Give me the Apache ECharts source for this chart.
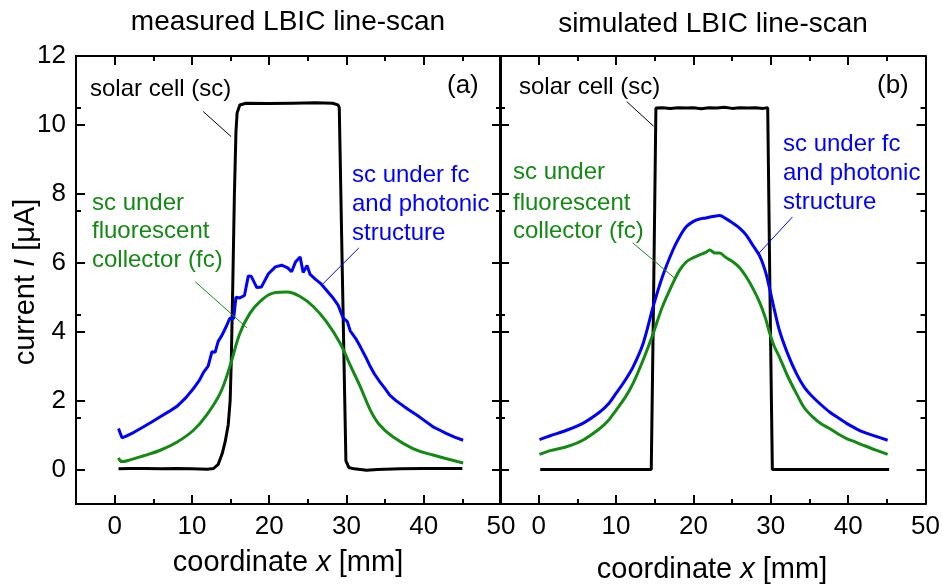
<!DOCTYPE html>
<html>
<head>
<meta charset="utf-8">
<script src="https://cdn.jsdelivr.net/npm/echarts@6/dist/echarts.min.js"></script>
<style>
  html, body { margin: 0; padding: 0; background: #fff; }
  #chart { width: 943px; height: 588px; }
</style>
</head>
<body>
<div id="chart"></div>
<script>
// ---- data -------------------------------------------------------------
// axis ticks
const xMajorTicks = [0, 10, 20, 30, 40, 50];
const yMajorTicks = [0, 2, 4, 6, 8, 10, 12];

// (a) measured line-scan: [x in mm, current in µA]
const scMeasured = [
  [0.5, 0.02], [2, 0.03], [4, 0.03], [6, 0.02], [8, 0.03], [10, 0.02], [12, 0.01],
  [12.8, 0.03], [13.4, 0.15], [13.9, 0.45], [14.3, 0.8], [14.7, 1.3], [14.95, 2.0],
  [15.1, 3.2], [15.3, 5.5], [15.5, 8.0], [15.7, 9.8], [15.85, 10.35], [16.2, 10.58],
  [17, 10.63], [20, 10.62], [23, 10.63], [26, 10.64], [28.2, 10.63], [28.9, 10.58],
  [29.07, 10.5], [29.5, 5.3], [29.93, 0.25], [30.3, 0.06], [31, 0.02], [32.6, -0.02],
  [34, 0.0], [37, 0.02], [40, 0.03], [45, 0.03]
];
const fcMeasured = [
  [0.5, 0.34], [0.95, 0.23], [2, 0.28], [3.75, 0.40], [5.9, 0.56], [8.1, 0.80],
  [10.2, 1.14], [11.9, 1.58], [13.65, 2.21], [14.9, 2.98], [16.2, 3.95], [17.5, 4.53],
  [18.8, 4.87], [20.5, 5.12], [22.3, 5.15], [24.0, 5.02], [25.7, 4.73], [27.4, 4.29],
  [29.2, 3.66], [30.5, 3.02], [31.8, 2.40], [33.1, 1.72], [34.3, 1.29], [36.0, 0.95],
  [38.6, 0.61], [41.2, 0.42], [45.1, 0.19]
];
const fcPhotonicMeasured = [
  [0.5, 1.19], [0.95, 0.92], [1.5, 0.97], [2.5, 1.08], [3.75, 1.24], [4.8, 1.38],
  [5.9, 1.53], [7, 1.68], [8.1, 1.84], [9.2, 2.08], [10.2, 2.35], [11, 2.6],
  [11.5, 2.82], [12.1, 3.0], [12.6, 3.42], [13.0, 3.4], [13.4, 3.72], [13.9, 3.9],
  [14.5, 4.18], [14.9, 4.39], [15.4, 4.38], [15.7, 5.0], [16.2, 4.98], [16.8, 5.05],
  [17.3, 5.62], [17.7, 5.6], [18.4, 5.28], [19.0, 5.3], [19.9, 5.68], [20.8, 5.88],
  [21.6, 5.93], [22.4, 5.85], [22.9, 5.74], [23.4, 6.02], [24.0, 6.17], [24.4, 5.72],
  [24.9, 5.92], [25.3, 5.66], [26.0, 5.52], [26.6, 5.41], [27.2, 5.26], [27.8, 5.1],
  [28.3, 4.97], [28.9, 4.78], [29.3, 4.55], [29.6, 4.39], [30.1, 4.3], [30.5, 4.02],
  [31.2, 3.8], [31.8, 3.56], [32.5, 3.26], [33.1, 2.98], [33.6, 2.78], [34.3, 2.55],
  [35, 2.35], [35.6, 2.16], [36.3, 2.02], [36.9, 1.92], [38, 1.74], [39.1, 1.58],
  [40.1, 1.42], [41.2, 1.24], [42.1, 1.14], [42.9, 1.05], [44, 0.94], [45.1, 0.85]
];

// (b) simulated line-scan
const scSimulated = [
  [0.2, 0], [5, 0], [10, 0], [14.55, 0], [14.85, 5], [15.15, 10.49], [16, 10.5],
  [17, 10.48], [18, 10.5], [19, 10.49], [20, 10.5], [21, 10.47], [22, 10.5],
  [23, 10.49], [24, 10.51], [25, 10.48], [26, 10.5], [27, 10.49], [28, 10.5],
  [29, 10.48], [29.6, 10.5], [29.9, 5], [30.2, 0], [35, 0], [40, 0], [45.3, 0]
];
const fcSimulated = [
  [0.1, 0.44], [1.5, 0.55], [3.6, 0.66], [5.7, 0.85], [7.9, 1.19], [9, 1.42],
  [10.0, 1.72], [11.2, 2.1], [12.2, 2.50], [13.5, 3.18], [14.8, 3.95], [16.0, 4.73],
  [17.35, 5.41], [18.2, 5.78], [19.1, 6.03], [20.0, 6.15], [20.8, 6.23], [21.6, 6.3],
  [22.1, 6.37], [22.8, 6.28], [23.4, 6.28], [24.2, 6.15], [25.1, 6.03], [26.0, 5.85],
  [26.8, 5.6], [27.7, 5.25], [28.6, 4.83], [29.3, 4.4], [29.8, 4.0], [30.4, 3.6],
  [31.1, 3.27], [32.2, 2.7], [33.3, 2.21], [34.3, 1.8], [35.4, 1.53], [36.5, 1.33],
  [37.6, 1.19], [38.7, 1.03], [39.8, 0.9], [40.9, 0.8], [41.9, 0.71], [43.5, 0.57],
  [45.1, 0.44]
];
const fcPhotonicSimulated = [
  [0.1, 0.87], [1.5, 0.98], [3.6, 1.14], [5.7, 1.34], [7.9, 1.67], [9, 1.9],
  [10.0, 2.21], [11.2, 2.6], [12.2, 2.98], [13.5, 3.66], [14.8, 4.73], [16.0, 5.6],
  [17.35, 6.37], [18.2, 6.75], [19.1, 7.05], [20.0, 7.2], [20.8, 7.27], [21.6, 7.3],
  [22.5, 7.34], [23.4, 7.37], [24.2, 7.28], [25.1, 7.15], [26.0, 7.0], [26.8, 6.81],
  [27.7, 6.5], [28.6, 6.18], [29.3, 5.75], [29.8, 5.3], [30.4, 4.7], [31.1, 4.05],
  [32.2, 3.35], [33.3, 2.79], [34.3, 2.4], [35.4, 2.11], [36.5, 1.88], [37.6, 1.67],
  [38.7, 1.5], [39.8, 1.34], [40.9, 1.2], [41.9, 1.09], [43.5, 0.97], [45.1, 0.85]
];

// ---- styling ----------------------------------------------------------
const FONT = '"Liberation Sans", Arial, sans-serif';
const BLACK = '#000';
const BLUE = '#0000ff';
const GREEN = '#138a13';

// leader lines from the curve labels to their curves (data coordinates)
const leadersA = {
  sc: [[11.46, 10.39], [15.08, 9.66]],
  fc: [[10.43, 5.45], [17.14, 4.11]],
  ph: [[31.6, 6.43], [26.96, 5.39]]
};
const leadersB = {
  sc: [[11.37, 10.68], [14.86, 9.96]],
  fc: [[12.14, 6.58], [17.7, 5.53]],
  ph: [[32.8, 7.33], [28.4, 6.26]]
};

function lineStyle(w) { return { color: BLACK, width: w }; }

function xAxis(grid, position, withLabels) {
  return {
    type: 'value', gridIndex: grid, min: -5, max: 50, position: position,
    splitLine: { show: false },
    axisLine: { show: true, onZero: false, lineStyle: lineStyle(2) },
    axisTick: { show: true, inside: true, length: 9, customValues: xMajorTicks.slice(), lineStyle: lineStyle(2) },
    minorTick: { show: true, splitNumber: 2, length: 5, lineStyle: lineStyle(2) },
    axisLabel: withLabels
      ? { customValues: xMajorTicks.slice(), color: BLACK, fontSize: 26, fontFamily: FONT, margin: 10 }
      : { show: false }
  };
}

function yAxis(grid, position, withLabels) {
  return {
    type: 'value', gridIndex: grid, min: -1, max: 12, position: position,
    splitLine: { show: false },
    axisLine: { show: true, onZero: false, lineStyle: lineStyle(2) },
    axisTick: { show: true, inside: true, length: 9, customValues: yMajorTicks.slice(), lineStyle: lineStyle(2) },
    minorTick: { show: true, splitNumber: 2, length: 5, lineStyle: lineStyle(2) },
    axisLabel: withLabels
      ? { customValues: yMajorTicks.slice(), color: BLACK, fontSize: 26, fontFamily: FONT, margin: 10 }
      : { show: false }
  };
}

function curve(data, color, axisIdx, smooth) {
  return {
    type: 'line', data: data,
    xAxisIndex: axisIdx, yAxisIndex: axisIdx,
    showSymbol: false, symbol: 'none',
    smooth: smooth || false,
    lineStyle: { color: color, width: 3 }
  };
}

// thin pointer line from a text label to its curve
function leader(pair, color, axisIdx) {
  return {
    type: 'line', data: pair, silent: true,
    xAxisIndex: axisIdx, yAxisIndex: axisIdx,
    showSymbol: false, symbol: 'none',
    lineStyle: { color: color, width: 1 }
  };
}

function label(text, x, y, color, size, align) {
  return {
    type: 'text', x: x, y: y, silent: true,
    style: {
      text: text, fill: color, fontSize: size, fontFamily: FONT,
      align: align || 'left', verticalAlign: 'middle'
    }
  };
}

// axis title with an italic symbol
function axisTitle(before, symbol, after, x, y, rotation) {
  return {
    type: 'text', x: x, y: y, rotation: rotation || 0, silent: true,
    style: {
      text: '{n|' + before + '}{i|' + symbol + '}{n|' + after + '}',
      align: 'center', verticalAlign: 'middle', fill: BLACK,
      rich: {
        n: { fontSize: 29, fontFamily: FONT, fill: BLACK },
        i: { fontSize: 29, fontFamily: FONT, fill: BLACK, fontStyle: 'italic' }
      }
    }
  };
}

const chart = echarts.init(document.getElementById('chart'));

chart.setOption({
  animation: false,
  grid: [
    { left: 76, right: 442, top: 56, bottom: 84 },
    { left: 500, right: 17, top: 56, bottom: 84 }
  ],
  xAxis: [
    xAxis(0, 'bottom', true), xAxis(0, 'top', false),
    xAxis(1, 'bottom', true), xAxis(1, 'top', false)
  ],
  yAxis: [
    yAxis(0, 'left', true), yAxis(0, 'right', false),
    yAxis(1, 'left', false), yAxis(1, 'right', false)
  ],
  series: [
    curve(scMeasured, BLACK, 0, false),
    curve(fcMeasured, GREEN, 0, 0.4),
    curve(fcPhotonicMeasured, BLUE, 0, false),
    curve(scSimulated, BLACK, 2, false),
    curve(fcSimulated, GREEN, 2, 0.3),
    curve(fcPhotonicSimulated, BLUE, 2, 0.3),
    leader(leadersA.sc, BLACK, 0),
    leader(leadersA.fc, GREEN, 0),
    leader(leadersA.ph, BLUE, 0),
    leader(leadersB.sc, BLACK, 2),
    leader(leadersB.fc, GREEN, 2),
    leader(leadersB.ph, BLUE, 2)
  ],
  graphic: [
    label('measured LBIC line-scan', 288, 22, BLACK, 28, 'center'),
    label('simulated LBIC line-scan', 713, 24, BLACK, 28, 'center'),
    axisTitle('coordinate ', 'x', ' [mm]', 288, 563),
    axisTitle('coordinate ', 'x', ' [mm]', 712, 570),
    axisTitle('current ', 'I', ' [μA]', 26, 282, Math.PI / 2),
    label('(a)', 447, 86, BLACK, 26),
    label('(b)', 877, 86, BLACK, 26),
    label('solar cell (sc)', 90, 89, BLACK, 24),
    label('solar cell (sc)', 519, 87, BLACK, 24),
    label('sc under', 92, 203, GREEN, 24),
    label('fluorescent', 92, 231, GREEN, 24),
    label('collector (fc)', 92, 260, GREEN, 24),
    label('sc under fc', 352, 175, BLUE, 24),
    label('and photonic', 352, 204, BLUE, 24),
    label('structure', 352, 233, BLUE, 24),
    label('sc under', 513, 172, GREEN, 24),
    label('fluorescent', 513, 203, GREEN, 24),
    label('collector (fc)', 513, 231, GREEN, 24),
    label('sc under fc', 783, 144, BLUE, 24),
    label('and photonic', 783, 173, BLUE, 24),
    label('structure', 783, 202, BLUE, 24)
  ]
});
</script>
</body>
</html>
